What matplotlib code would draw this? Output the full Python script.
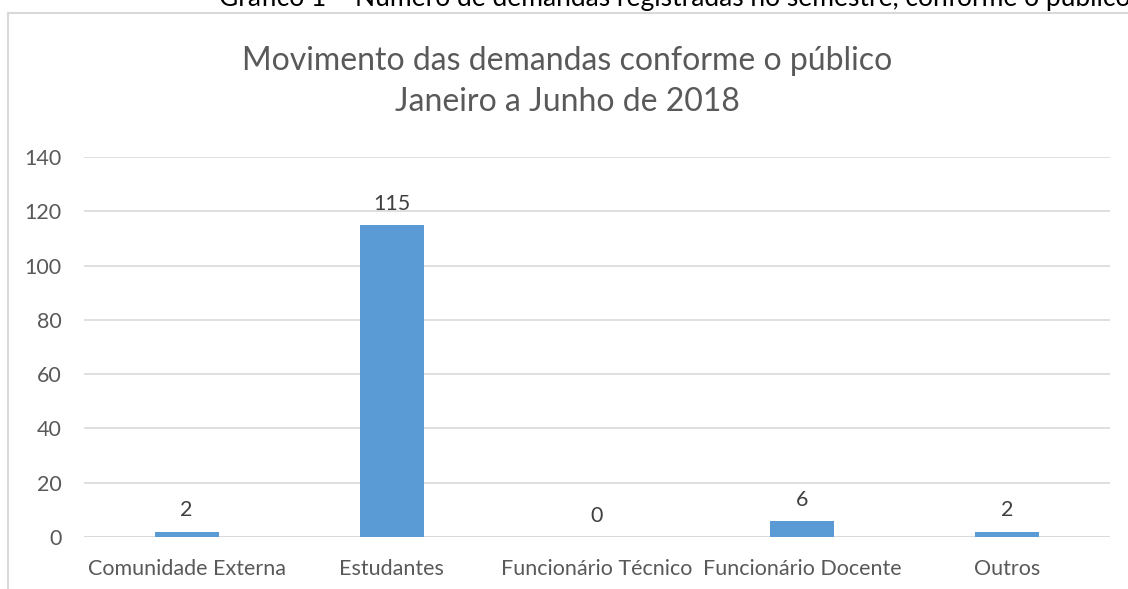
import matplotlib.pyplot as plt
from matplotlib.lines import Line2D

categorias = ['Comunidade Externa', 'Estudantes', 'Funcionário Técnico', 'Funcionário Docente', 'Outros']
demandas = [2, 115, 0, 6, 2]
y_ticks = [0, 20, 40, 60, 80, 100, 120, 140]

plt.rcParams['font.family'] = ['Lato', 'DejaVu Sans']

fig = plt.figure(figsize=(11.28, 5.89), dpi=100)
ax = fig.add_axes([0.0745, 0.0883, 0.9095, 0.6451])

x = range(len(categorias))
bars = ax.bar(x, demandas, width=0.313, color='#5B9BD5', zorder=3)
for b, v in zip(bars, demandas):
    ax.annotate(str(v), (b.get_x() + b.get_width() / 2, v), xytext=(0, 8),
                textcoords='offset points', ha='center', va='bottom',
                fontsize=15.5, color='#404040')

ax.set_xlim(-0.5, len(categorias) - 0.5)
ax.set_ylim(0, 140)
ax.set_yticks(y_ticks)
ax.set_xticks(list(x))
ax.set_xticklabels(categorias)
ax.tick_params(axis='both', length=0, labelsize=15.5, labelcolor='#595959')
ax.tick_params(axis='y', pad=16)
ax.tick_params(axis='x', pad=16)
ax.grid(axis='y', color='#D9D9D9', linewidth=1.2, zorder=0)
for s in ax.spines.values():
    s.set_visible(False)
ax.axhline(0, color='#D9D9D9', linewidth=1.2, zorder=2)

fig.text(0.503, 0.862, 'Movimento das demandas conforme o público\nJaneiro a Junho de 2018',
         ha='center', va='center', fontsize=23, color='#595959', linespacing=1.45)
fig.text(0.598, 1 - 6 / 589, 'Gráfico 1 – Número de demandas registradas no semestre, conforme o público',
         ha='center', va='baseline', fontsize=19, color='#000000')

fig.add_artist(Line2D([8 / 1128, 8 / 1128], [0, 1 - 13 / 589], transform=fig.transFigure,
                      color='#D9D9D9', linewidth=1.5))
fig.add_artist(Line2D([8 / 1128, 1], [1 - 13 / 589, 1 - 13 / 589], transform=fig.transFigure,
                      color='#D9D9D9', linewidth=1.5))

fig.savefig('out.png', dpi=100)
